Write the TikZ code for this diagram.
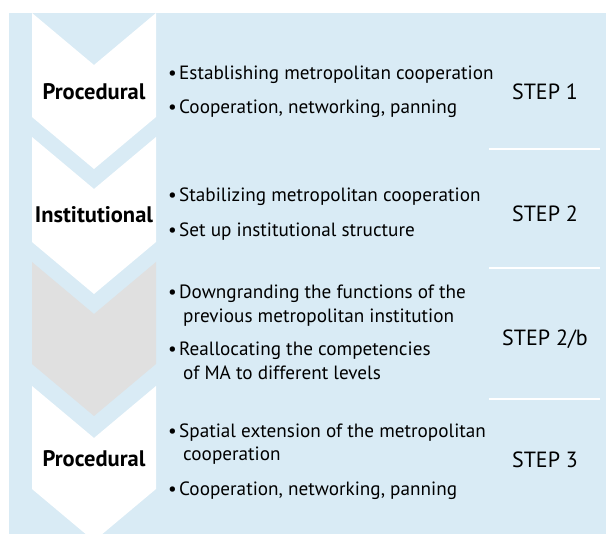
\documentclass[tikz,border=0pt]{standalone}
\usepackage{fontspec}
\setmainfont{PT Sans}
\definecolor{bgblue}{RGB}{217,235,245}
\definecolor{stepgray}{RGB}{224,224,224}
\newcommand{\boxcolor}{bgblue}
\newcommand{\depth}{52}
\newcommand{\itm}[1]{\makebox[11pt][l]{\textbullet}#1}

\begin{document}
\begin{tikzpicture}[x=1pt,y=-1pt,
  phase/.style={font=\fontsize{22.5}{24}\selectfont\bfseries,inner sep=0,anchor=base},
  bullettext/.style={font=\fontsize{19.2}{22}\selectfont,inner sep=0,anchor=base west},
  stepname/.style={font=\fontsize{22}{24}\selectfont,inner sep=0,anchor=base}]
\clip (0,0) rectangle (606,534);
\fill[\boxcolor] (9,13) rectangle (606,534);
%chevrons
\fill[white] (32,13) -- (94,13+\depth) -- (156,13) -- (156,117) -- (94,117+\depth) -- (32,117) -- cycle;
\fill[white] (32,137) -- (94,137+\depth) -- (156,137) -- (156,242) -- (94,242+\depth) -- (32,242) -- cycle;
\fill[stepgray] (32,262) -- (94,262+\depth) -- (156,262) -- (156,364) -- (94,364+\depth) -- (32,364) -- cycle;
\fill[white] (32,386) -- (94,386+\depth) -- (156,386) -- (156,489) -- (94,489+\depth) -- (32,489) -- cycle;
%separators
\draw[white,line width=1.5pt] (489,149) -- (600,149);
\draw[white,line width=1.5pt] (489,268) -- (600,268);
\draw[white,line width=1.5pt] (489,399) -- (600,399);
%phases
\node[phase] (1) at (94,100) {Procedural};
\node[phase] (2) at (94,223) {Institutional};
\node[phase] (4) at (94,467) {Procedural};
%steps
\node[stepname] (s1) at (545,100) {STEP 1};
\node[stepname] (s2) at (545,222) {STEP 2};
\node[stepname] (s2b) at (545,346) {STEP 2/b};
\node[stepname] (s3) at (545,468) {STEP 3};
%step 1
\node[bullettext] (1a) at (168,80) {\itm{Establishing metropolitan cooperation}};
\node[bullettext] (1b) at (168,114) {\itm{Cooperation, networking, panning}};
%step 2
\node[bullettext] (2a) at (168,202) {\itm{Stabilizing metropolitan cooperation}};
\node[bullettext] (2b) at (168,237) {\itm{Set up institutional structure}};
%step 2/b
\node[bullettext] (3a) at (168,299) {\itm{Downgranding the functions of the}};
\node[bullettext] (3b) at (183,323) {previous metropolitan institution};
\node[bullettext] (3c) at (168,356) {\itm{Reallocating the competencies}};
\node[bullettext] (3d) at (183,380) {of MA to different levels};
%step 3
\node[bullettext] (4a) at (168,438) {\itm{Spatial extension of the metropolitan}};
\node[bullettext] (4b) at (183,461) {cooperation};
\node[bullettext] (4c) at (168,496) {\itm{Cooperation, networking, panning}};
\end{tikzpicture}
\end{document}
